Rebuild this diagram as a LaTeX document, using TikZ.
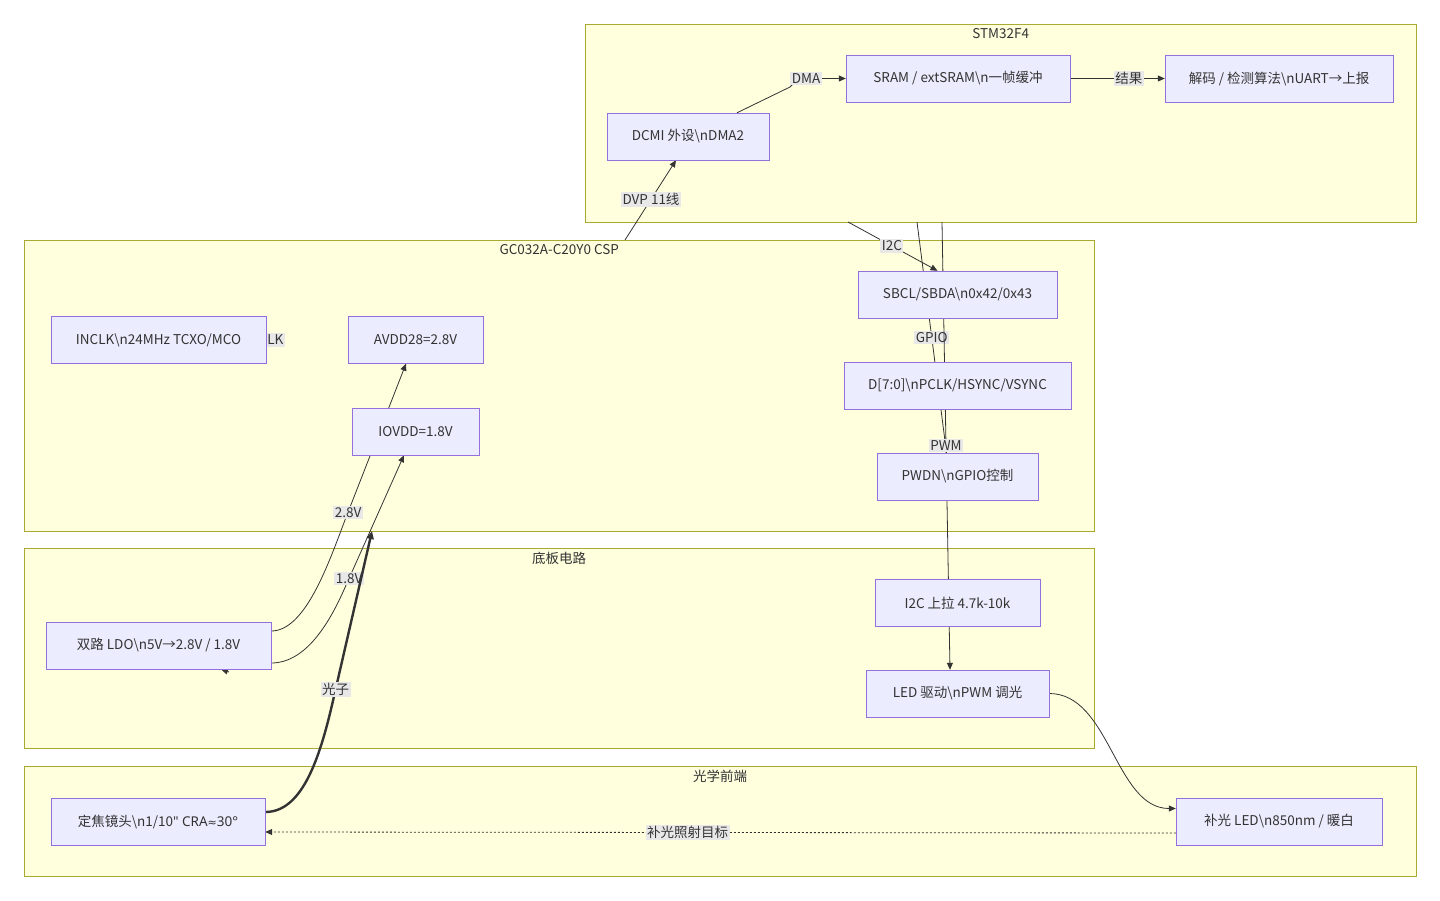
\documentclass[tikz,border=0pt]{standalone}
\usepackage{fontspec}
\setmainfont{Noto Sans CJK SC}
\newfontfamily\latinfont{Noto Sans}
\newfontfamily\symfont{DejaVu Sans}
\usetikzlibrary{arrows.meta}
\definecolor{nodefill}{HTML}{ECECFF}
\definecolor{nodeline}{HTML}{9370DB}
\definecolor{groupfill}{HTML}{FFFFDE}
\definecolor{groupline}{HTML}{AAAA33}
\definecolor{ink}{HTML}{333333}
\definecolor{tagfill}{HTML}{E8E8E8}
\newcommand{\bsn}{\textbackslash n}
\pgfdeclarelayer{groups}
\pgfdeclarelayer{wires}
\pgfsetlayers{groups,wires,main}

\begin{document}
\begin{tikzpicture}[
  x = 1pt, y = -1pt,
  font = \fontsize{13.5}{16}\selectfont,
  block/.style = {
    shape = rectangle,
    draw = nodeline,
    fill = nodefill,
    text = ink,
    minimum height = 47pt,
    inner sep = 0pt,
  },
  group/.style = {
    shape = rectangle,
    draw = groupline,
    fill = groupfill,
    anchor = north west,
    inner sep = 0pt,
  },
  grouptitle/.style = {anchor = north, text = ink, inner sep = 0pt, yshift = -4pt},
  tag/.style = {fill = tagfill, text = ink, inner sep = 1.5pt},
  wire/.style = {draw = ink, line width = 0.8pt, -{Triangle[length = 7pt, width = 6pt]}},
]
  \useasboundingbox (0, 0) rectangle (1440, 901);

  \begin{pgfonlayer}{groups}
    \node[group, minimum width = 831pt, minimum height = 198pt] (stm) at (585, 24) {};
    \node[group, minimum width = 1070pt, minimum height = 291pt] (csp) at (24, 240) {};
    \node[group, minimum width = 1070pt, minimum height = 200pt] (board) at (24, 548) {};
    \node[group, minimum width = 1392pt, minimum height = 110pt] (optic) at (24, 766) {};

    \node[grouptitle] (stm-title) at (stm.north) {STM32F4};
    \node[grouptitle] (csp-title) at (csp.north) {GC032A-C20Y0 CSP};
    \node[grouptitle] (board-title) at (board.north) {底板电路};
    \node[grouptitle] (optic-title) at (optic.north) {光学前端};
  \end{pgfonlayer}

  \node[block, minimum width = 162pt] (dcmi) at (688, 136.5) {DCMI 外设\bsn DMA2};
  \node[block, minimum width = 224pt] (sram) at (958, 78.5) {SRAM / extSRAM\bsn 一帧缓冲};
  \node[block, minimum width = 228pt] (algo) at (1279, 78.5) {解码 / 检测算法\bsn UART→上报};

  \node[block, minimum width = 215pt] (inclk) at (158.5, 340) {INCLK\bsn 24MHz TCXO/MCO};
  \node[block, minimum width = 135pt] (avdd) at (415.5, 340) {AVDD28=2.8V};
  \node[block, minimum width = 127pt] (iovdd) at (415.5, 431.5) {IOVDD=1.8V};
  \node[block, minimum width = 199pt] (sbcl) at (957.5, 294.5) {SBCL/SBDA\bsn 0x42/0x43};
  \node[block, minimum width = 227pt] (dbus) at (957.5, 385.5) {D[7:0]\bsn PCLK/HSYNC/VSYNC};
  \node[block, minimum width = 161pt] (pwdn) at (957.5, 476.5) {PWDN\bsn GPIO控制};

  \node[block, minimum width = 225pt] (ldo) at (158.5, 645.5) {双路 LDO\bsn 5V→2.8V / 1.8V};
  \node[block, minimum width = 165pt] (pullup) at (957.5, 603) {I2C 上拉 4.7k-10k};
  \node[block, minimum width = 183pt] (ledrv) at (957.5, 693.5) {LED 驱动\bsn PWM 调光};

  \node[block, minimum width = 214pt] (lens) at (158, 821.5) {定焦镜头\bsn 1/10{\latinfont " CRA{\symfont\fontsize{11}{16}\selectfont ≈}30°}};
  \node[block, minimum width = 206pt] (fill) at (1279, 821.5) {补光 LED\bsn 850nm / 暖白};

  \coordinate (dvp-out) at (625, 240);
  \coordinate (stm-i2c) at (848, 222);
  \coordinate (stm-gpio) at (917, 222);
  \coordinate (stm-pwm) at (942, 222);
  \coordinate (csp-in) at (372, 531);
  \coordinate (clk-tail) at (229, 672);

  \begin{pgfonlayer}{wires}
    \draw[wire] (dvp-out) -- node[tag, pos = 0.51] {DVP 11线} ([xshift = -12pt] dcmi.south);
    \draw[wire] ([xshift = 49pt] dcmi.north) -- (790, 87) .. controls (798, 79) .. (806, 78.5)
      -- node[tag, pos = 0] {DMA} (sram.west);
    \draw[wire] (sram.east) -- node[tag, pos = 0.62] {结果} (algo.west);

    \draw[wire] (stm-i2c) -- node[tag, pos = 0.49] {I2C} ([xshift = -20pt] sbcl.north);
    \draw[draw = ink, line width = 0.8pt] (stm-gpio) -- node[tag, pos = 0.5] {GPIO} ([xshift = -11pt] pwdn.north);
    \draw[wire] (stm-pwm) -- node[tag, pos = 0.5] {PWM} ([xshift = -7.5pt] ledrv.north);

    \node[tag] (clk-tag) at (271, 340) {CLK};
    \draw[wire] (clk-tail) -- ([xshift = 62.5pt] ldo.south);

    \draw[wire] ([yshift = 14.5pt] ldo.east) .. controls (305, 631) and (328, 565) .. (345, 520)
      -- node[tag, pos = 0.05] {2.8V} ([xshift = -9.5pt] avdd.south);
    \draw[wire] ([yshift = -17.5pt] ldo.east) .. controls (305, 663) and (328, 625) .. (343, 592)
      -- node[tag, pos = 0.1] {1.8V} ([xshift = -11.5pt] iovdd.south);
    \draw[wire, line width = 2.4pt, -{Triangle[length = 8pt, width = 7pt]}]
      ([yshift = 9.5pt] lens.east) .. controls (300, 812) and (318, 765) .. (332, 705)
      -- node[tag, pos = 0.09] {光子} (csp-in);

    \draw[wire] (ledrv.east) .. controls (1110, 693.5) and (1115, 808.5) .. ([yshift = 13pt] fill.west);
    \draw[wire, dash pattern = on 2pt off 2pt]
      ([yshift = -11.5pt] fill.west) -- node[tag, pos = 0.536] {补光照射目标} ([yshift = -10.5pt] lens.east);
  \end{pgfonlayer}
\end{tikzpicture}
\end{document}
